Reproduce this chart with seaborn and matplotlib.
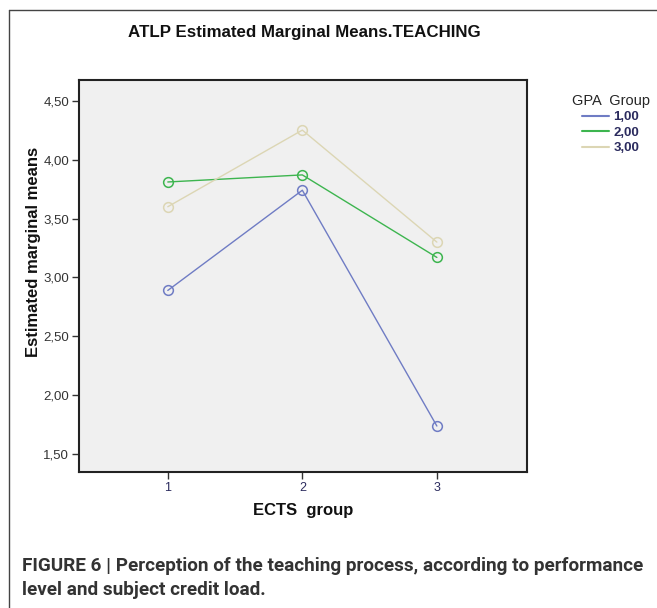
import pandas as pd
import matplotlib
matplotlib.use('Agg')
import matplotlib.pyplot as plt
import seaborn as sns
from matplotlib.lines import Line2D

# values
ects_groups = [1, 2, 3]
gpa_groups = ['1,00', '2,00', '3,00']
gpa_1 = [2.89, 3.74, 1.74]
gpa_2 = [3.81, 3.87, 3.17]
gpa_3 = [3.60, 4.25, 3.30]
y_ticks = [1.5, 2.0, 2.5, 3.0, 3.5, 4.0, 4.5]
y_tick_labels = ['1,50', '2,00', '2,50', '3,00', '3,50', '4,00', '4,50']
palette = ['#6F7CC4', '#3DB54F', '#DCD6B4']

df = pd.DataFrame({
    'ECTS group': ects_groups * 3,
    'mean': gpa_1 + gpa_2 + gpa_3,
    'GPA Group': [g for g in gpa_groups for _ in ects_groups],
})

sns.set_style('white')
plt.rcParams['font.family'] = ['Liberation Sans', 'DejaVu Sans']

fig = plt.figure(figsize=(6.57, 6.08), dpi=100)
ax = fig.add_axes([79 / 657, 1 - 472 / 608, 448 / 657, 392 / 608])
ax.set_facecolor('#F0F0F0')

sns.lineplot(data=df, x='ECTS group', y='mean', hue='GPA Group',
             palette=palette, marker='o', markersize=7, linewidth=1.0,
             legend=False, ax=ax)
for line in ax.lines:
    line.set_markerfacecolor('none')
    line.set_markeredgecolor(line.get_color())
    line.set_markeredgewidth(1.1)

ax.set_xlim(0.34, 3.67)
ax.set_ylim(1.35, 4.675)
ax.set_xticks(ects_groups)
ax.set_xticklabels([str(v) for v in ects_groups], fontsize=9, color='#2B2B5E')
ax.set_yticks(y_ticks)
ax.set_yticklabels(y_tick_labels, fontsize=9.5, color='#333333')
ax.tick_params(axis='both', direction='out', length=5, width=1, color='#333333',
               bottom=True, left=True, pad=2)
for side in ax.spines.values():
    side.set_color('#222222')
    side.set_linewidth(1.5)

ax.set_xlabel('ECTS  group', fontsize=12, fontweight='bold', color='#111111', labelpad=7)
ax.set_ylabel('Estimated marginal means', fontsize=12, fontweight='bold', color='#111111')
ax.yaxis.set_label_coords(-0.085, 0.561)

fig.text(304 / 657, 1 - 33 / 608, 'ATLP Estimated Marginal Means.TEACHING',
         ha='center', va='center', fontsize=12.2, fontweight='bold', color='#111111')

# legend outside the axes
handles = [Line2D([], [], color=c, linewidth=1.5) for c in palette]
leg = fig.legend(handles, gpa_groups, title='GPA  Group', loc='upper left',
                 bbox_to_anchor=(565 / 657, 1 - 87 / 608), frameon=False,
                 fontsize=9.5, title_fontsize=10.5, handlelength=2.05, handletextpad=0.3,
                 labelspacing=0.25, borderpad=0.0)
for t in leg.get_texts():
    t.set_color('#2B2B5E')
    t.set_fontweight('bold')

# frame around the figure panel
fig.add_artist(Line2D([9 / 657, 9 / 657], [0, 1 - 10 / 608], color='#444444', linewidth=1))
fig.add_artist(Line2D([9 / 657, 1], [1 - 10 / 608, 1 - 10 / 608], color='#444444', linewidth=1))

caption_font = ['Liberation Sans Narrow', 'Roboto', 'DejaVu Sans']
fig.text(22 / 657, 1 - 566 / 608,
         'FIGURE 6 | Perception of the teaching process, according to performance',
         ha='left', va='center', fontsize=13.6, fontweight='bold', color='#333333',
         family=caption_font)
fig.text(22 / 657, 1 - 590 / 608, 'level and subject credit load.',
         ha='left', va='center', fontsize=13.6, fontweight='bold', color='#333333',
         family=caption_font)

fig.savefig('out.png', dpi=100)
